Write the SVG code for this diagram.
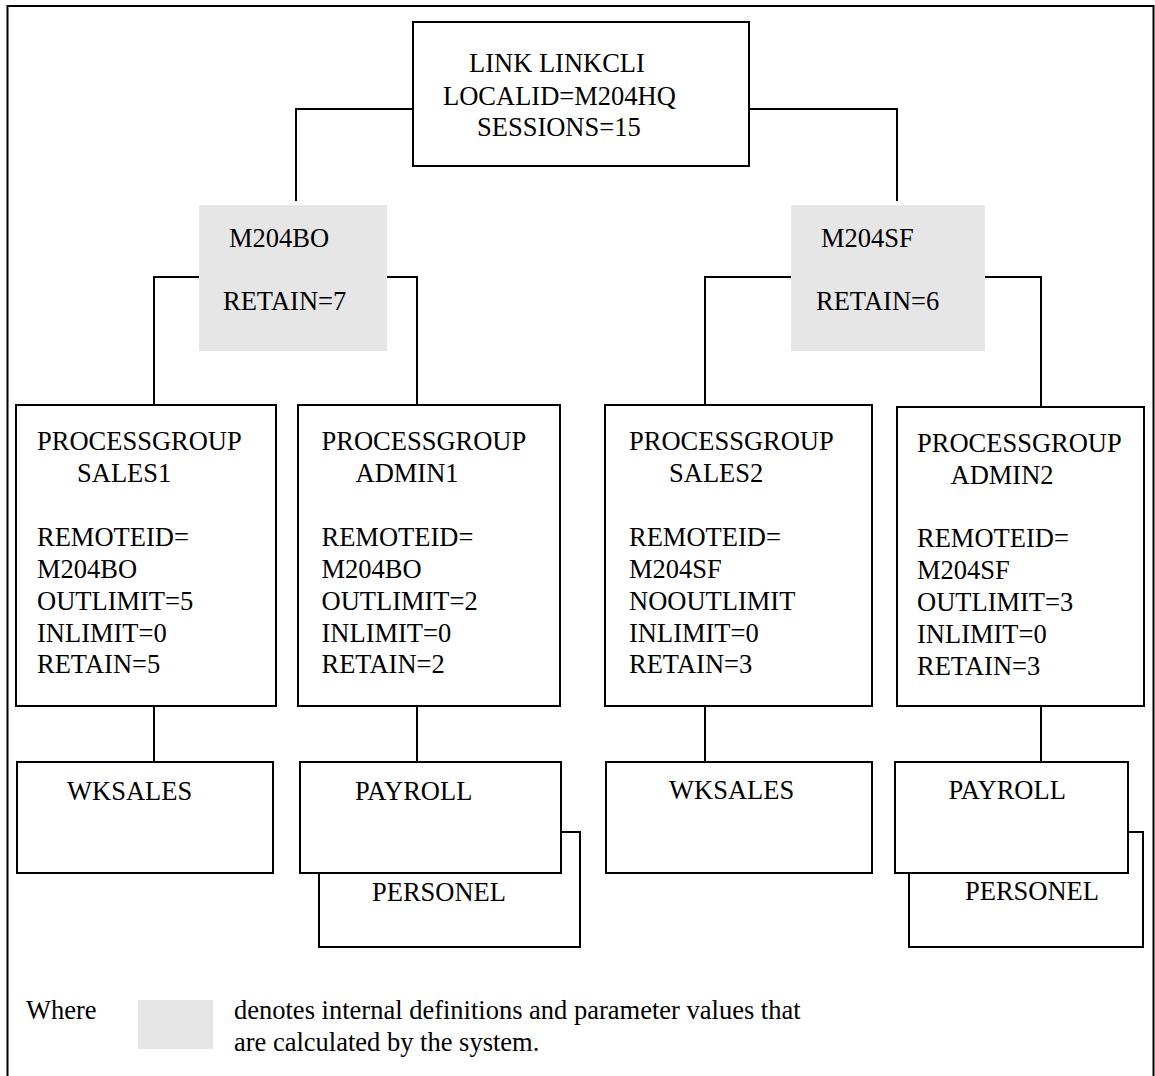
<svg xmlns="http://www.w3.org/2000/svg" width="1155" height="1076" viewBox="0 0 1155 1076">
  <style>
    .box { fill: #ffffff; stroke: #000000; stroke-width: 2; }
    .sys { fill: #e6e6e6; stroke: none; }
    .conn { fill: none; stroke: #000000; stroke-width: 2; stroke-linejoin: miter; }
    .t { font-family: "Liberation Serif", "Times New Roman", serif; font-size: 26.5px; fill: #000000; }
  </style>

  <!-- outer frame, open at the bottom -->
  <path id="frame" class="conn" d="M7.5,1076 V6 H1153.5 V1076"/>

  <!-- connectors -->
  <g id="connectors">
    <polyline class="conn" points="413,109 296,109 296,201"/>
    <polyline class="conn" points="749,109 897,109 897,201"/>
    <polyline class="conn" points="203,277 154,277 154,405"/>
    <polyline class="conn" points="381,277 417,277 417,405"/>
    <polyline class="conn" points="795,277 705,277 705,405"/>
    <polyline class="conn" points="980,277 1041,277 1041,407"/>
    <line class="conn" x1="154" y1="706" x2="154" y2="762"/>
    <line class="conn" x1="417" y1="706" x2="417" y2="762"/>
    <line class="conn" x1="705" y1="706" x2="705" y2="762"/>
    <line class="conn" x1="1041" y1="706" x2="1041" y2="762"/>
  </g>

  <!-- link definition -->
  <g id="link-linkcli">
    <rect class="box" x="413" y="22" width="336" height="144"/>
    <text class="t" x="469" y="72">LINK LINKCLI</text>
    <text class="t" x="443" y="105">LOCALID=M204HQ</text>
    <text class="t" x="477" y="136">SESSIONS=15</text>
  </g>

  <!-- system-calculated remote definitions -->
  <g id="remote-m204bo">
    <rect class="sys" x="199" y="205" width="188" height="146"/>
    <text class="t" x="229" y="247">M204BO</text>
    <text class="t" x="223" y="310">RETAIN=7</text>
  </g>
  <g id="remote-m204sf">
    <rect class="sys" x="791" y="205" width="194" height="146"/>
    <text class="t" x="821" y="247">M204SF</text>
    <text class="t" x="816" y="310">RETAIN=6</text>
  </g>

  <!-- process groups -->
  <g id="pg-sales1">
    <rect class="box" x="16" y="405" width="260" height="301"/>
    <text class="t" x="37" y="450">PROCESSGROUP</text>
    <text class="t" x="77" y="482">SALES1</text>
    <text class="t" x="37" y="546">REMOTEID=</text>
    <text class="t" x="37" y="578">M204BO</text>
    <text class="t" x="37" y="610">OUTLIMIT=5</text>
    <text class="t" x="37" y="642">INLIMIT=0</text>
    <text class="t" x="37" y="673">RETAIN=5</text>
  </g>
  <g id="pg-admin1">
    <rect class="box" x="298" y="405" width="262" height="301"/>
    <text class="t" x="321.5" y="450">PROCESSGROUP</text>
    <text class="t" x="355.5" y="482">ADMIN1</text>
    <text class="t" x="321.5" y="546">REMOTEID=</text>
    <text class="t" x="321.5" y="578">M204BO</text>
    <text class="t" x="321.5" y="610">OUTLIMIT=2</text>
    <text class="t" x="321.5" y="642">INLIMIT=0</text>
    <text class="t" x="321.5" y="673">RETAIN=2</text>
  </g>
  <g id="pg-sales2">
    <rect class="box" x="605" y="405" width="267" height="301"/>
    <text class="t" x="629" y="450">PROCESSGROUP</text>
    <text class="t" x="669" y="482">SALES2</text>
    <text class="t" x="629" y="546">REMOTEID=</text>
    <text class="t" x="629" y="578">M204SF</text>
    <text class="t" x="629" y="610">NOOUTLIMIT</text>
    <text class="t" x="629" y="642">INLIMIT=0</text>
    <text class="t" x="629" y="673">RETAIN=3</text>
  </g>
  <g id="pg-admin2">
    <rect class="box" x="897" y="407" width="247" height="299"/>
    <text class="t" x="917" y="452">PROCESSGROUP</text>
    <text class="t" x="950.5" y="484">ADMIN2</text>
    <text class="t" x="917" y="547">REMOTEID=</text>
    <text class="t" x="917" y="579">M204SF</text>
    <text class="t" x="917" y="611">OUTLIMIT=3</text>
    <text class="t" x="917" y="643">INLIMIT=0</text>
    <text class="t" x="917" y="675">RETAIN=3</text>
  </g>

  <!-- files -->
  <g id="file-wksales1">
    <rect class="box" x="17" y="762" width="256" height="111"/>
    <text class="t" x="67" y="800">WKSALES</text>
  </g>
  <g id="file-personel1">
    <rect class="box" x="319" y="832" width="261" height="115"/>
    <text class="t" x="372" y="901">PERSONEL</text>
  </g>
  <g id="file-payroll1">
    <rect class="box" x="300" y="762" width="261" height="111"/>
    <text class="t" x="355" y="800">PAYROLL</text>
  </g>
  <g id="file-wksales2">
    <rect class="box" x="606" y="762" width="266" height="111"/>
    <text class="t" x="669" y="799">WKSALES</text>
  </g>
  <g id="file-personel2">
    <rect class="box" x="909" y="832" width="234" height="115"/>
    <text class="t" x="965" y="900">PERSONEL</text>
  </g>
  <g id="file-payroll2">
    <rect class="box" x="895" y="762" width="233" height="111"/>
    <text class="t" x="948.5" y="799">PAYROLL</text>
  </g>

  <!-- legend -->
  <g id="legend">
    <text class="t" x="26" y="1019">Where</text>
    <rect class="sys" x="138" y="1000" width="75" height="49"/>
    <text class="t" x="234" y="1019">denotes internal definitions and parameter values that</text>
    <text class="t" x="234" y="1051">are calculated by the system.</text>
  </g>
</svg>
